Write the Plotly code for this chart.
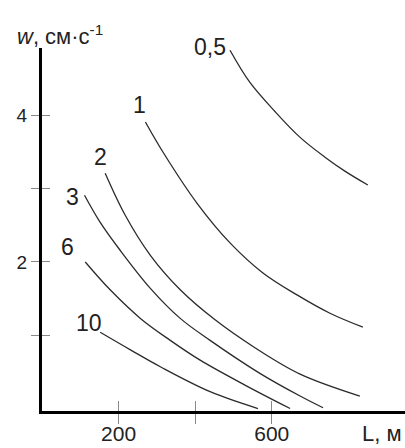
import plotly.graph_objects as go

# Curve parameters (labels) and points
labels = ["0,5", "1", "2", "3", "6", "10"]

L_05 = [491, 543, 609, 674, 739, 791, 851]
w_05 = [4.89, 4.45, 4.05, 3.70, 3.43, 3.24, 3.05]

L_1 = [270, 317, 405, 491, 577, 666, 752, 838]
w_1 = [3.91, 3.49, 2.80, 2.26, 1.85, 1.55, 1.30, 1.11]

L_2 = [165, 217, 283, 361, 452, 556, 674, 830]
w_2 = [3.21, 2.64, 2.09, 1.62, 1.21, 0.83, 0.47, 0.17]

L_3 = [111, 152, 204, 283, 361, 439, 569, 674, 734]
w_3 = [2.91, 2.54, 2.16, 1.64, 1.23, 0.93, 0.48, 0.17, 0.01]

L_6 = [113, 178, 257, 335, 413, 530, 648]
w_6 = [2.00, 1.62, 1.23, 0.93, 0.66, 0.32, 0.0]

L_10 = [152, 231, 309, 439, 564]
w_10 = [1.04, 0.80, 0.57, 0.23, 0.0]

x_label_vals = [200, 600]
x_label_text = ["200", "600"]
x_minor_vals = [400]
y_label_vals = [2, 4]
y_label_text = ["2", "4"]
y_minor_vals = [1, 3]

curves = [(L_05, w_05), (L_1, w_1), (L_2, w_2), (L_3, w_3), (L_6, w_6), (L_10, w_10)]
# label offsets (pixels) relative to the first point of each curve
label_shift = [(-20, 3), (-6, 17), (-5, 16), (-12, -2), (-18, 15), (-11, 9)]

FONT = "Liberation Sans, Arial, sans-serif"
X_RANGE = [0, 948]
Y_RANGE = [-0.034, 4.92]
TICKC = "#888"

fig = go.Figure()
for (xs, ys) in curves:
    fig.add_trace(go.Scatter(x=xs, y=ys, mode="lines",
                             line=dict(color="#2b2b2b", width=1.3, shape="spline", smoothing=1.0),
                             hoverinfo="skip", showlegend=False))

# invisible trace for overlay axes (inside ticks)
fig.add_trace(go.Scatter(x=[None], y=[None], xaxis="x2", yaxis="y2", showlegend=False))

annotations = []
for lab, (xs, ys), (dx, dy) in zip(labels, curves, label_shift):
    annotations.append(dict(x=xs[0], y=ys[0], xref="x", yref="y", text=lab,
                            showarrow=False, xshift=dx, yshift=dy,
                            font=dict(family=FONT, size=23, color="#222")))
annotations.append(dict(x=-0.074, y=1.036, xref="paper", yref="paper", xanchor="left",
                        yanchor="middle", showarrow=False,
                        text="<i>w</i>, см·с<sup>-1</sup>",
                        font=dict(family=FONT, size=22, color="#222")))
annotations.append(dict(x=0.996, y=-0.063, xref="paper", yref="paper", xanchor="right",
                        yanchor="middle", showarrow=False, text="L, м",
                        font=dict(family=FONT, size=22, color="#222")))

all_x = sorted(x_label_vals + x_minor_vals)
all_y = sorted(y_label_vals + y_minor_vals)

fig.update_layout(
    width=405, height=448,
    margin=dict(l=42, r=0, t=48, b=37, autoexpand=False),
    paper_bgcolor="white", plot_bgcolor="white",
    xaxis=dict(range=X_RANGE, showgrid=False, zeroline=False, showline=True, automargin=False,
               linecolor="black", linewidth=3, ticks="outside", ticklen=10,
               tickcolor=TICKC, tickwidth=1, tickvals=x_label_vals, ticktext=x_label_text,
               ticklabelstandoff=-8,
               minor=dict(tickvals=x_minor_vals, ticks="outside", ticklen=10,
                          tickcolor=TICKC, tickwidth=1, showgrid=False),
               tickfont=dict(family=FONT, size=21, color="#222")),
    yaxis=dict(range=Y_RANGE, showgrid=False, zeroline=False, showline=True, automargin=False,
               linecolor="black", linewidth=3, ticks="outside", ticklen=8,
               tickcolor=TICKC, tickwidth=1, tickvals=y_label_vals, ticktext=y_label_text,
               minor=dict(tickvals=y_minor_vals, ticks="outside", ticklen=8,
                          tickcolor=TICKC, tickwidth=1, showgrid=False),
               tickfont=dict(family=FONT, size=19, color="#222")),
    xaxis2=dict(range=X_RANGE, overlaying="x", anchor="y2", side="bottom", showgrid=False,
                zeroline=False, showline=False, ticks="inside", ticklen=10, automargin=False,
                tickcolor=TICKC, tickwidth=1, tickvals=all_x, showticklabels=False),
    yaxis2=dict(range=Y_RANGE, overlaying="y", anchor="x2", side="left", showgrid=False,
                zeroline=False, showline=False, ticks="inside", ticklen=8, automargin=False,
                tickcolor=TICKC, tickwidth=1, tickvals=all_y, showticklabels=False),
    annotations=annotations,
)

fig.write_html("out.html")
